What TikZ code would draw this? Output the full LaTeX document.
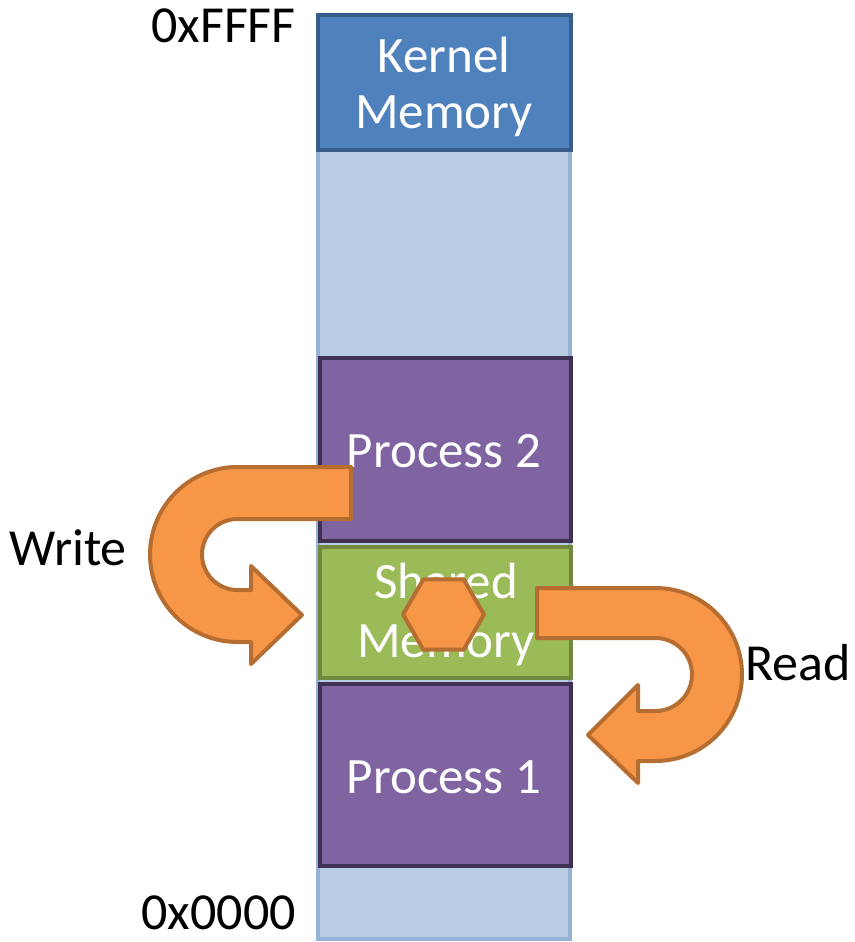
\documentclass[tikz,border=0pt]{standalone}
\usepackage{fontspec}
\setmainfont{Carlito}
\definecolor{colfill}{HTML}{B9CDE5}
\definecolor{coldraw}{HTML}{95B3D7}
\definecolor{kernfill}{HTML}{4F81BD}
\definecolor{kerndraw}{HTML}{385D8A}
\definecolor{procfill}{HTML}{8064A2}
\definecolor{procdraw}{HTML}{403152}
\definecolor{shfill}{HTML}{9BBB59}
\definecolor{shdraw}{HTML}{71893F}
\definecolor{arrfill}{HTML}{F79646}
\definecolor{arrdraw}{HTML}{B66D31}
\begin{document}
\begin{tikzpicture}[x=1pt,y=1pt,
  block/.style={line width=4pt},
  intext/.style={text=white,font=\fontsize{51}{57}\selectfont,anchor=base,inner sep=0pt},
  lbl/.style={text=black,font=\fontsize{52}{57}\selectfont,anchor=base,inner sep=0pt},
  bigarrow/.style={fill=arrfill,draw=arrdraw,line width=4pt,line join=round}]
\useasboundingbox (0,0) rectangle (854,-942);
% column
\draw[block,fill=colfill,draw=coldraw] (318,-17) rectangle (570,-939);
% blocks
\draw[block,fill=kernfill,draw=kerndraw] (318,-15) rectangle (571,-150);
\draw[block,fill=procfill,draw=procdraw] (320,-358) rectangle (571,-541);
\draw[block,fill=shfill,draw=shdraw] (320,-547) rectangle (571,-678);
\draw[block,fill=procfill,draw=procdraw] (320,-684) rectangle (571,-866);
% texts
\node[intext] (k1) at (444,-73) {Kernel};
\node[intext] (k2) at (444,-128) {Memory};
\node[intext] (p2) at (444,-467) {Process 2};
\node[intext] (s1) at (446,-598) {Shared};
\node[intext] (s2) at (446,-657) {Memory};
\node[intext] (p1) at (444,-793) {Process 1};
\node[lbl,anchor=base east] (hi) at (296,-43) {0xFFFF};
\node[lbl,anchor=base east] (lo) at (296,-929) {0x0000};
\node[lbl] (wr) at (68,-565) {Write};
\node[lbl] (rd) at (798,-680) {Read};
% write arrow
\draw[bigarrow] (351,-467) -- (237.5,-467) arc[start angle=90,end angle=270,radius=87.5]
  -- (251,-642) -- (251,-664) -- (302,-615) -- (251,-566) -- (251,-590) -- (237.5,-590)
  arc[start angle=270,end angle=90,radius=35.5] -- (351,-519) -- cycle;
% read arrow
\draw[bigarrow] (537,-588) -- (655.5,-588) arc[start angle=90,end angle=-90,radius=86.5]
  -- (638,-761) -- (638,-783) -- (588,-735) -- (638,-685) -- (638,-711) -- (655.5,-711)
  arc[start angle=-90,end angle=90,radius=36.5] -- (537,-638) -- cycle;
% hexagon
\draw[bigarrow] (443.5,-614.5) +(0:40.5) -- +(60:40.5) -- +(120:40.5) -- +(180:40.5)
  -- +(240:40.5) -- +(300:40.5) -- cycle;
\end{tikzpicture}
\end{document}
